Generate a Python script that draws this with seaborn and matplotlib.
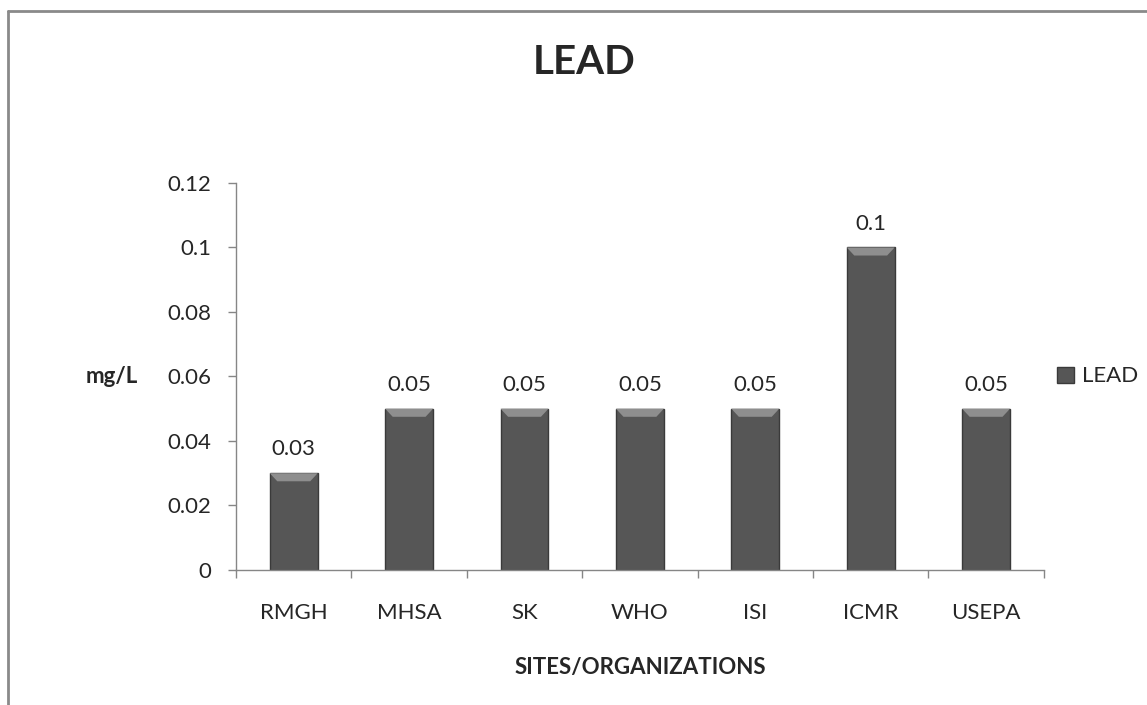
import seaborn as sns
import pandas as pd
import numpy as np
import matplotlib.pyplot as plt
from matplotlib.lines import Line2D
from matplotlib.patches import Polygon
from matplotlib.ticker import FixedLocator

# data
sites = ['RMGH', 'MHSA', 'SK', 'WHO', 'ISI', 'ICMR', 'USEPA']
lead = [0.03, 0.05, 0.05, 0.05, 0.05, 0.1, 0.05]
yticks = [0, 0.02, 0.04, 0.06, 0.08, 0.1, 0.12]

df = pd.DataFrame({'site': sites, 'lead': lead})

sns.set_style('white')
plt.rcParams['font.family'] = ['Lato', 'DejaVu Sans']

fig = plt.figure(figsize=(11.47, 7.05), dpi=100)
ax = fig.add_axes([0.2058, 0.1915, 0.7042, 0.549])

sns.barplot(data=df, x='site', y='lead', color='#565656', width=0.415,
            edgecolor='#3a3a3a', linewidth=1.0, saturation=1, label='LEAD', ax=ax)

ax.set_ylim(0, 0.12)
ax.set_xlim(-0.5, len(sites) - 0.5)

# bevel on top of each bar + value labels
dx = 0.065         # inset of the bevel, in category units
dy = 0.0025        # depth of the bevel, in data units
for p, v in zip(ax.patches, lead):
    x0, w, h = p.get_x(), p.get_width(), p.get_height()
    ax.add_patch(Polygon([[x0, h], [x0 + w, h], [x0 + w - dx, h - dy], [x0 + dx, h - dy]],
                         closed=True, facecolor='#8e8e8e', edgecolor='none', zorder=3))
    ax.annotate('%g' % v, (x0 + w / 2, h), xytext=(0, 10), textcoords='offset points',
                ha='center', va='bottom', fontsize=16)

ax.set_yticks(yticks)
ax.set_yticklabels(['%g' % t for t in yticks])
ax.tick_params(axis='y', labelsize=16, length=6, width=1, color='#868686',
               direction='out', left=True, pad=12)
ax.tick_params(axis='x', which='major', labelsize=16, length=0, pad=24)
ax.xaxis.set_minor_locator(FixedLocator(np.arange(-0.5, len(sites), 1)))
ax.tick_params(axis='x', which='minor', length=6, width=1, color='#868686',
               direction='out', bottom=True)

for s in ['top', 'right']:
    ax.spines[s].set_visible(False)
for s in ['left', 'bottom']:
    ax.spines[s].set_color('#868686')
    ax.spines[s].set_linewidth(1)

ax.set_xlabel('SITES/ORGANIZATIONS', fontsize=16, fontweight='bold', labelpad=24)
ax.set_ylabel('mg/L', fontsize=16, fontweight='bold', rotation=0, va='center')
ax.yaxis.set_label_coords(-0.154, 0.5)

fig.text(0.509, 0.912, 'LEAD', ha='center', va='center', fontsize=29, fontweight='bold')

leg = ax.legend(loc='center left', bbox_to_anchor=(0.992, 0.5), frameon=False,
                fontsize=16, handlelength=0.75, handleheight=0.75, handletextpad=0.36)

# chart frame (left and top edges visible)
fig.add_artist(Line2D([8 / 1147, 8 / 1147], [0, 1 - 11 / 705], color='#8a8a8a', lw=2))
fig.add_artist(Line2D([8 / 1147, 1], [1 - 11 / 705, 1 - 11 / 705], color='#8a8a8a', lw=2))

plt.savefig('out.png', dpi=100)
